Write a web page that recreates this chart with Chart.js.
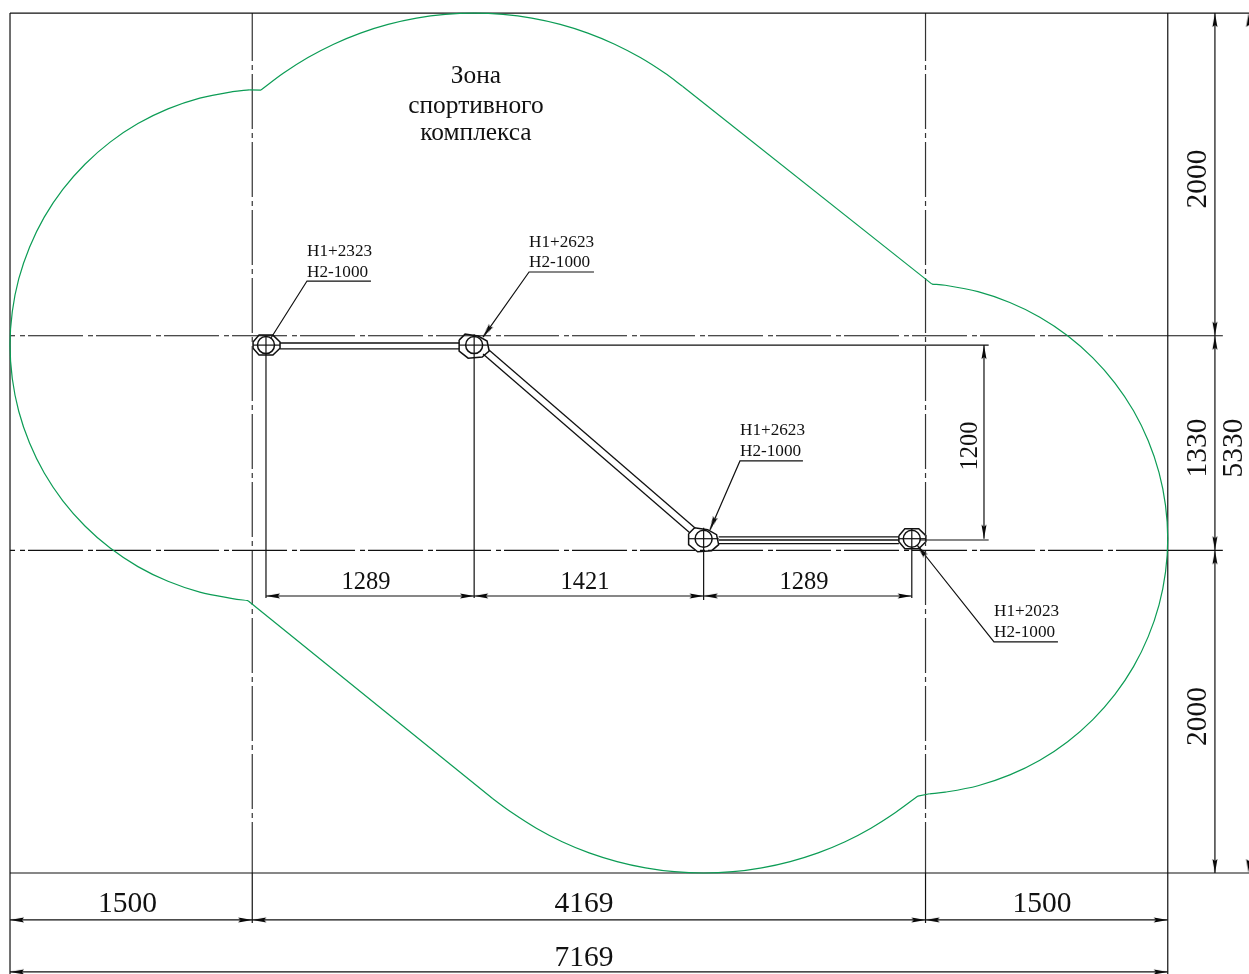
<!DOCTYPE html>
<html>
<head>
<meta charset="utf-8">
<style>
  html, body { margin: 0; padding: 0; background: #fff; }
  canvas { display: block; }
</style>
<script src="https://cdn.jsdelivr.net/npm/chart.js@4"></script>
</head>
<body>
<canvas id="plan" width="1249" height="974"></canvas>
<script>
const xMin = -62, xMax = 7672, yMin = -626, yMax = 5411;

// Zone outline, green
const arcA = [[1481,4854],[1378,4843],[1175,4803],[978,4736],[792,4645],[620,4530],[464,4393],[327,4237],[212,4065],[121,3879],[54,3682],[14,3479],[0,3272],[14,3065],[54,2862],[121,2665],[212,2479],[327,2307],[464,2151],[620,2014],[792,1899],[978,1808],[1175,1741],[1378,1701],[1474,1688]];
const stepAB = [[1554,4853],[1481,4854]];
const lineAC = [[1474,1688],[2990,460]];
const arcC = [[2990,460],[3107,375],[3259,278],[3419,194],[3586,125],[3759,71],[3935,32],[4114,8],[4295,0],[4476,8],[4655,32],[4831,71],[5004,125],[5171,194],[5331,278],[5483,375],[5622,477]];
const stepCD = [[5622,477],[5694,491]];
const arcD = [[5694,491],[5791,501],[5994,541],[6191,608],[6377,699],[6549,814],[6705,951],[6842,1107],[6957,1279],[7048,1465],[7115,1662],[7155,1865],[7169,2072],[7155,2279],[7115,2482],[7048,2679],[6957,2865],[6842,3037],[6705,3193],[6549,3330],[6377,3445],[6191,3536],[5994,3603],[5791,3643],[5709,3650]];
const lineDB = [[5709,3650],[4166,4875]];
const arcB = [[4166,4875],[4054,4958],[3903,5054],[3744,5137],[3578,5206],[3407,5260],[3231,5299],[3053,5322],[2874,5330],[2695,5322],[2517,5299],[2341,5260],[2170,5206],[2004,5137],[1845,5054],[1694,4958],[1554,4853]];

// Frame and dimension lines
const frameLines = [
  [[0,5330],[7672,5330]], [[0,0],[7672,0]],
  [[0,5330],[0,-626]], [[7169,5330],[7169,-626]],
  [[1500,0],[1500,-310]], [[5669,0],[5669,-310]],
  [[7169,3330],[7510,3330]], [[7169,2000],[7510,2000]],
  [[0,-291],[7169,-291]], [[0,-613],[7169,-613]],
  [[7461,5330],[7461,0]],
  [[6031,3272],[6031,2072]], [[1585,1717],[5584,1717]],
  [[1585,3204],[1585,1704]], [[2874,3192],[2874,1704]],
  [[4295,2002],[4295,1692]], [[5584,2002],[5584,1704]],
  [[2967,3272],[6060,3272]], [[5634,2064],[6060,2064]]
];
// Centre lines, dash-dot
const axisRows = [[[0,3330],[7169,3330]], [[0,2000],[7169,2000]]];
const axisCols = [[[1500,5330],[1500,0]], [[5669,5330],[5669,0]]];

// Pipes between the wells
const pipeLines = [
  [[1672,3285],[2781,3285]], [[1672,3248],[2781,3248]],
  [[2966,3242],[4242,2138]], [[2929,3217],[4211,2107]],
  [[4388,2083],[5504,2083]], [[4388,2064],[5504,2064]], [[4388,2042],[5504,2042]]
];
const wellCentres = [[1585,3272],[2874,3272],[4295,2072],[5584,2072]];
const wellCrosses = [
  [[1505,3272],[1672,3272]], [[1585,3330],[1585,3204]],
  [[2781,3272],[2967,3272]], [[2874,3340],[2874,3192]],
  [[4202,2072],[4388,2072]], [[4295,2140],[4295,2002]],
  [[5504,2072],[5671,2072]], [[5584,2134],[5584,2002]]
];
const wellShapes = [
  [[1505,3291],[1542,3334],[1628,3334],[1672,3291],[1672,3253],[1628,3210],[1542,3210],[1505,3253],[1505,3291]],
  [[2781,3303],[2818,3340],[2899,3328],[2954,3297],[2967,3235],[2924,3198],[2837,3191],[2781,3235],[2781,3303]],
  [[4202,2103],[4239,2140],[4320,2128],[4375,2097],[4388,2035],[4345,1998],[4258,1991],[4202,2035],[4202,2103]],
  [[5504,2091],[5541,2134],[5627,2134],[5671,2091],[5671,2053],[5627,2010],[5541,2010],[5504,2053],[5504,2091]]
];

// Leaders from the notes
const leaderLines = [
  [[1616,3316],[1839,3669],[2235,3669]],
  [[2929,3322],[3214,3725],[3616,3725]],
  [[4334,2126],[4520,2554],[4910,2554]],
  [[5616,2033],[6093,1432],[6489,1432]]
];

// Arrow tips: x, y, direction in degrees
const arrowTips = [
  [0,-291,180],[1500,-291,0],[1500,-291,180],[5669,-291,0],[5669,-291,180],[7169,-291,0],
  [0,-613,180],[7169,-613,0],
  [7461,5330,-90],[7461,3330,90],[7461,3330,-90],[7461,2000,90],[7461,2000,-90],[7461,0,90],
  [7670,5330,-90],[7670,0,90],
  [6031,3272,-90],[6031,2072,90],
  [1585,1717,180],[2874,1717,0],[2874,1717,180],[4295,1717,0],[4295,1717,180],[5584,1717,0],
  [2929,3322,125],[4334,2126,113],[5616,2033,-128]
];

// Texts: string, x, y
const bigDims = [['1500',727,-192],['4169',3554,-192],['1500',6390,-192],['7169',3554,-526]];
const midDims = [['1289',2204,1798],['1421',3560,1798],['1289',4916,1798]];
const sideDims = [['2000',7360,4301],['1330',7360,2634],['5330',7580,2634],['2000',7360,970]];
const innerDims = [['1200',5950,2647]];
const zoneLabels = [['Зона',2885,4940],['спортивного',2885,4754],['комплекса',2885,4587]];
const wellNotes = [
  ['H1+2323',1839,3855],['H2-1000',1839,3725],
  ['H1+2623',3214,3911],['H2-1000',3214,3781],
  ['H1+2623',4520,2740],['H2-1000',4520,2610],
  ['H1+2023',6093,1618],['H2-1000',6093,1488]
];

const toPts = a => a.map(p => ({ x: p[0], y: p[1] }));
const INK = '#111', GREEN = '#0c9c55';

function path(pts, color, width, extra) {
    return Object.assign({
        type: 'scatter', data: toPts(pts), showLine: true, borderColor: color,
        borderWidth: width, pointRadius: 0, fill: false, tension: 0
    }, extra || {});
}

// Arrow sprite with its tip in the middle of the canvas
function arrowSprite() {
    const c = document.createElement('canvas');
    c.width = 30; c.height = 8;
    const g = c.getContext('2d');
    g.fillStyle = '#000';
    g.beginPath();
    g.moveTo(15, 4); g.lineTo(1, 1.5); g.lineTo(3, 4); g.lineTo(1, 6.5);
    g.closePath(); g.fill();
    return c;
}

const datasets = [];
[arcA, arcC, arcD, arcB].forEach(a => datasets.push(path(a, GREEN, 1.2, { tension: 0.335 })));
[stepAB, lineAC, stepCD, lineDB].forEach(a => datasets.push(path(a, GREEN, 1.2)));
frameLines.forEach(a => datasets.push(path(a, INK, 1.2)));
axisRows.forEach(a => datasets.push(path(a, INK, 1.2, { borderDash: [55, 5, 5, 3], borderDashOffset: 50 })));
axisCols.forEach(a => datasets.push(path(a, '#333', 1.2, { borderDash: [55, 4, 5, 4], borderDashOffset: 7 })));
pipeLines.forEach(a => datasets.push(path(a, INK, 1.3)));
wellCrosses.forEach(a => datasets.push(path(a, INK, 1.2)));
wellShapes.forEach(a => datasets.push(path(a, INK, 1.5)));
leaderLines.forEach(a => datasets.push(path(a, INK, 1.2)));
datasets.push({
    type: 'scatter', data: toPts(wellCentres), showLine: false,
    pointStyle: 'circle', pointRadius: 8.5, pointBorderColor: INK,
    pointBackgroundColor: 'rgba(0,0,0,0)', pointBorderWidth: 1.5
});
datasets.push({
    type: 'scatter', data: toPts(arrowTips), showLine: false,
    pointStyle: arrowSprite(), pointRadius: 1, pointRotation: arrowTips.map(t => t[2])
});

// Draws the dimension and note texts at their drawing coordinates
const planText = {
    id: 'planText',
    afterDatasetsDraw(chart) {
        const { ctx, scales } = chart;
        function put(list, size, align, rotated) {
            ctx.save();
            ctx.font = size + 'px "Liberation Serif", serif';
            ctx.fillStyle = '#111';
            ctx.textAlign = align;
            ctx.textBaseline = 'middle';
            list.forEach(t => {
                ctx.save();
                ctx.translate(scales.x.getPixelForValue(t[1]), scales.y.getPixelForValue(t[2]));
                if (rotated) ctx.rotate(-Math.PI / 2);
                ctx.fillText(t[0], 0, 0);
                ctx.restore();
            });
            ctx.restore();
        }
        put(bigDims, 29.5, 'center', false);
        put(midDims, 24.5, 'center', false);
        put(sideDims, 29.5, 'center', true);
        put(innerDims, 24.5, 'center', true);
        put(zoneLabels, 25.4, 'center', false);
        put(wellNotes, 17.2, 'left', false);
    }
};

new Chart(document.getElementById('plan').getContext('2d'), {
    type: 'scatter',
    data: { datasets },
    options: {
        responsive: false,
        animation: false,
        layout: { padding: 0, autoPadding: false },
        plugins: { legend: { display: false }, tooltip: { enabled: false } },
        scales: {
            x: { type: 'linear', min: xMin, max: xMax, display: false },
            y: { type: 'linear', min: yMin, max: yMax, display: false }
        }
    },
    plugins: [planText]
});
</script>
</body>
</html>
